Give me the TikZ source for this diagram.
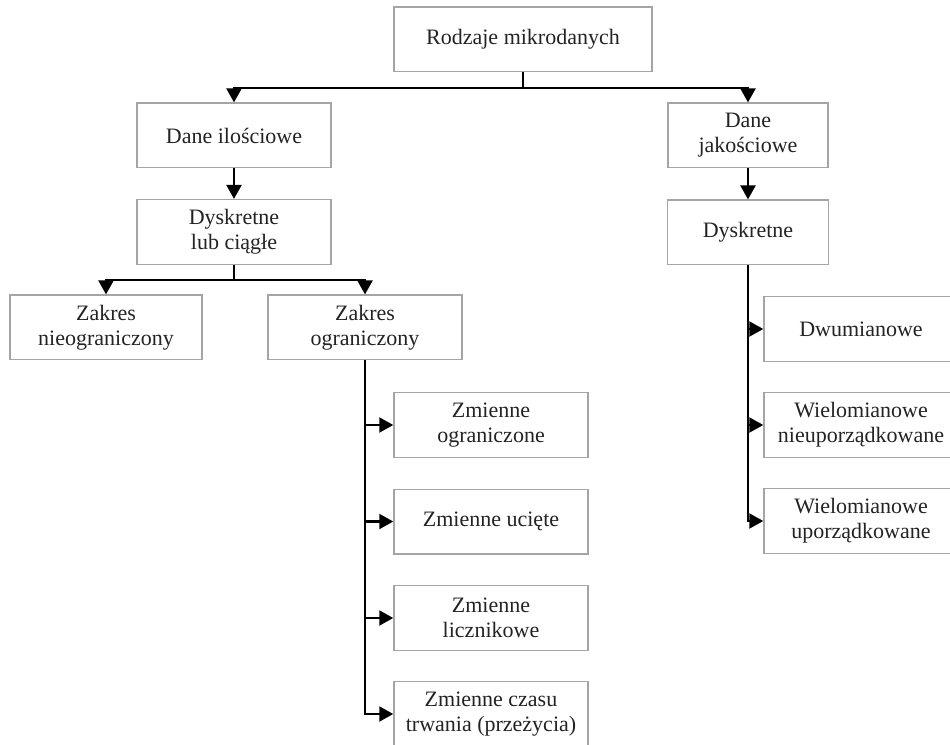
\documentclass[tikz,border=0pt]{standalone}
\usepackage{fontspec}
\setmainfont{Liberation Serif}
\usetikzlibrary{arrows.meta}
\begin{document}
\begin{tikzpicture}[x=0.75pt,y=0.75pt,yscale=-1,xscale=1,
    box/.style={draw={rgb, 255:red, 165; green, 165; blue, 165}, line width=1pt, align=center, inner sep=0pt,
      minimum height=48.5pt, text={rgb, 255:red, 35; green, 35; blue, 35}, font=\fontsize{16.5}{18.75}\selectfont},
    arr/.style={line width=2.2pt, -{Triangle[width=11pt,length=10.5pt]}}]
            \useasboundingbox (0,0) rectangle (950,745);
            \clip (0,0) rectangle (950,745);
            % Text Node
            \node [box, minimum width=193.5pt] (root) at (523,39.5) {Rodzaje mikrodanych};
            % Text Node
            \node [box, minimum width=145.5pt] (quan) at (234,135.5) {Dane ilościowe};
            % Text Node
            \node [box, minimum width=120pt] (qual) at (748,135.5) {Dane\\jakościowe};
            % Text Node
            \node [box, minimum width=145.5pt] (discont) at (234,232) {Dyskretne\\lub ciągłe};
            % Text Node
            \node [box, minimum width=120.75pt] (disc) at (748,232.5) {Dyskretne};
            % Text Node
            \node [box, minimum width=144pt] (unbound) at (106,327.5) {Zakres\\nieograniczony};
            % Text Node
            \node [box, minimum width=145.5pt] (bound) at (365,327.5) {Zakres\\ograniczony};
            % Text Node
            \node [box, minimum width=145.5pt] (limited) at (491,425) {Zmienne\\ograniczone};
            % Text Node
            \node [box, minimum width=145.5pt] (truncated) at (491,521.5) {Zmienne ucięte};
            % Text Node
            \node [box, minimum width=145.5pt] (count) at (491,618) {Zmienne\\licznikowe};
            % Text Node
            \node [box, minimum width=145.5pt] (duration) at (491,714) {Zmienne czasu\\trwania (przeżycia)};
            % Text Node
            \node [box, minimum width=145.5pt] (binary) at (861,329) {Dwumianowe};
            % Text Node
            \node [box, minimum width=145.5pt] (unordered) at (861,425) {Wielomianowe\\nieuporządkowane};
            % Text Node
            \node [box, minimum width=145.5pt] (ordered) at (861,521) {Wielomianowe\\uporządkowane};

            %Straight Lines
            \coordinate (j1) at (523,88);
            \draw [line width=2.2pt] (root.south) -- (j1);
            \draw [arr] (j1) -| (quan.north);
            \draw [arr] (j1) -| (qual.north);
            %Straight Lines
            \draw [arr] (quan) -- (discont);
            \draw [arr] (qual) -- (disc);
            %Straight Lines
            \coordinate (j2) at (234,280);
            \draw [line width=2.2pt] (discont.south) -- (j2);
            \draw [arr] (j2) -| (unbound.north);
            \draw [arr] (j2) -| (bound.north);
            %Straight Lines
            \draw [arr] (bound.south) |- (duration.west);
            \draw [arr] (bound.south |- limited.west) -- (limited.west);
            \draw [arr] (bound.south |- truncated.west) -- (truncated.west);
            \draw [arr] (bound.south |- count.west) -- (count.west);
            %Straight Lines
            \draw [arr] (disc.south) |- (ordered.west);
            \draw [arr] (disc.south |- binary.west) -- (binary.west);
            \draw [arr] (disc.south |- unordered.west) -- (unordered.west);
        \end{tikzpicture}
\end{document}
